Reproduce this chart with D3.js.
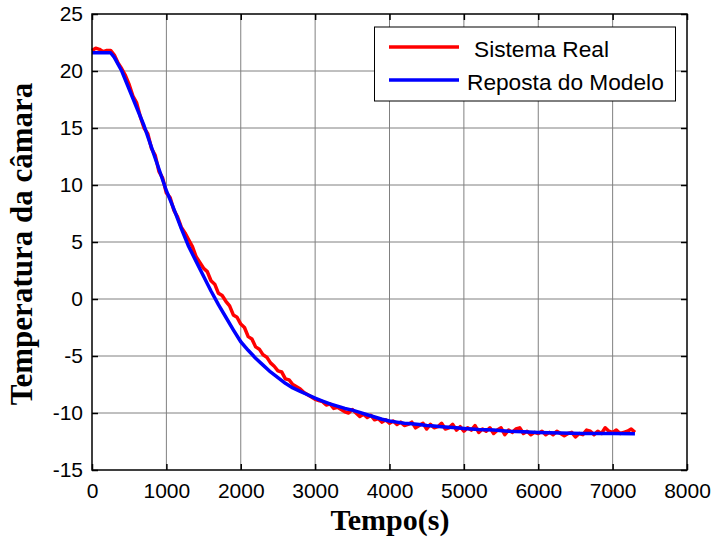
<!DOCTYPE html>
<html>
<head>
<meta charset="utf-8">
<script src="https://cdnjs.cloudflare.com/ajax/libs/d3/7.8.5/d3.min.js"></script>
<style>
  body { margin: 0; background: #fff; }
  svg { display: block; }
</style>
</head>
<body>
<div id="chart"></div>
<script>
// Set dimensions
var w = 713;
var h = 540;
var margin = {top: 14, right: 26, bottom: 70, left: 92};

// Model response (s, degrees)
var modelTime = [0, 100, 200, 250, 300, 400, 500, 600, 700, 800, 900, 1000,
    1100, 1200, 1300, 1400, 1500, 1600, 1700, 1800, 1900, 2000, 2100, 2200,
    2300, 2400, 2500, 2600, 2700, 2800, 2900, 3000, 3100, 3200, 3300, 3400,
    3500, 3600, 3700, 3800, 3900, 4000, 4100, 4200, 4300, 4400, 4500, 4600,
    4700, 4800, 4900, 5000, 5200, 5400, 5600, 5800, 6000, 6300, 6600, 7000, 7300];
var modelTemp = [21.6, 21.6, 21.6, 21.6, 21.2, 20.0, 18.4, 16.8, 15.2, 13.3, 11.4, 9.5,
    7.9, 6.2, 4.6, 3.3, 2.0, 0.7, -0.5, -1.6, -2.7, -3.75, -4.5, -5.2,
    -5.8, -6.4, -6.9, -7.4, -7.8, -8.1, -8.4, -8.7, -8.95, -9.2, -9.4, -9.6,
    -9.75, -9.95, -10.15, -10.35, -10.55, -10.7, -10.8, -10.9, -10.95, -11.0, -11.1, -11.15,
    -11.2, -11.25, -11.3, -11.35, -11.45, -11.5, -11.6, -11.65, -11.7, -11.75, -11.8, -11.8, -11.82];

// Measured system, sampled every 50 s from 0 to 7300
var realStep = 50;
var realTemp = [21.8, 22.0, 21.9, 21.7, 21.8, 21.8, 21.4, 20.7, 20.2, 19.6,
    18.8, 17.8, 17.2, 16.0, 15.0, 14.5, 13.2, 12.6, 11.2, 10.6,
    9.3, 8.9, 7.8, 7.2, 6.3, 5.8, 5.2, 4.6, 3.7, 3.2,
    2.7, 2.4, 1.6, 1.3, 0.5, 0.3, -0.2, -0.6, -1.4, -1.6,
    -2.2, -2.5, -3.3, -3.5, -4.2, -4.4, -4.9, -5.1, -5.6, -5.9,
    -6.3, -6.4, -7.0, -7.1, -7.5, -7.7, -7.9, -8.2, -8.4, -8.6,
    -8.8, -8.9, -9.0, -9.3, -9.2, -9.6, -9.5, -9.7, -9.9, -10.0,
    -9.7, -10.0, -10.3, -10.1, -10.4, -10.2, -10.6, -10.5, -10.8, -10.6,
    -10.9, -10.7, -11.0, -10.8, -11.1, -11.0, -10.8, -11.3, -11.1, -10.9,
    -11.4, -11.0, -11.3, -11.2, -10.9, -11.4, -11.3, -11.0, -11.5, -11.2,
    -11.6, -11.3, -11.5, -11.1, -11.7, -11.4, -11.6, -11.3, -11.8, -11.5,
    -11.3, -11.9, -11.5, -11.7, -11.4, -11.3, -11.8, -11.6, -11.9, -11.7,
    -11.8, -11.6, -11.9, -11.7, -11.9, -11.6, -11.8, -12.0, -11.8, -11.7,
    -12.1, -11.8, -11.9, -11.5, -11.6, -11.9, -11.6, -11.8, -11.3, -11.6,
    -11.7, -11.5, -11.8, -11.7, -11.6, -11.4, -11.7];

var xTicks = [0, 1000, 2000, 3000, 4000, 5000, 6000, 7000, 8000];
var yTicks = [-15, -10, -5, 0, 5, 10, 15, 20, 25];
var seriesNames = ["Sistema Real", "Reposta do Modelo"];

var realData = realTemp.map(function(v, i) { return [i * realStep, v]; });
var modelData = modelTime.map(function(t, i) { return [t, modelTemp[i]]; });

var xScale = d3.scaleLinear()
    .domain([0, 8000])
    .range([margin.left, w - margin.right]);

var yScale = d3.scaleLinear()
    .domain([-15, 25])
    .range([h - margin.bottom, margin.top]);

var svg = d3.select("#chart")
    .append("svg")
    .attr("width", w)
    .attr("height", h)
    .style("background", "#fff");

// Grid
svg.append("g")
    .selectAll("line")
    .data(xTicks.slice(1, -1))
    .enter()
    .append("line")
    .attr("x1", function(d) { return xScale(d); })
    .attr("x2", function(d) { return xScale(d); })
    .attr("y1", margin.top)
    .attr("y2", h - margin.bottom)
    .attr("stroke", "#808080")
    .attr("stroke-width", 1);

svg.append("g")
    .selectAll("line")
    .data(yTicks.slice(1, -1))
    .enter()
    .append("line")
    .attr("x1", margin.left)
    .attr("x2", w - margin.right)
    .attr("y1", function(d) { return yScale(d); })
    .attr("y2", function(d) { return yScale(d); })
    .attr("stroke", "#808080")
    .attr("stroke-width", 1);

// Axes with inward ticks, plain hyphen minus like the original
var plain = function(d) { return String(d); };

function styleAxis(g) {
    g.select(".domain").remove();
    g.selectAll(".tick line").attr("stroke", "#000").attr("stroke-width", 1.5);
    g.selectAll(".tick text")
        .attr("fill", "#000")
        .style("font-family", "'Liberation Sans', Arial, sans-serif")
        .style("font-size", "21px");
}

svg.append("g")
    .attr("transform", "translate(0," + (h - margin.bottom) + ")")
    .call(d3.axisBottom(xScale).tickValues(xTicks).tickFormat(plain).tickSize(-6).tickPadding(13))
    .call(styleAxis);

svg.append("g")
    .attr("transform", "translate(0," + margin.top + ")")
    .call(d3.axisTop(xScale).tickValues(xTicks).tickSize(-6).tickFormat(""))
    .call(styleAxis);

svg.append("g")
    .attr("transform", "translate(" + margin.left + ",0)")
    .call(d3.axisLeft(yScale).tickValues(yTicks).tickFormat(plain).tickSize(-6).tickPadding(9))
    .call(styleAxis);

svg.append("g")
    .attr("transform", "translate(" + (w - margin.right) + ",0)")
    .call(d3.axisRight(yScale).tickValues(yTicks).tickSize(-6).tickFormat(""))
    .call(styleAxis);

// Lines
var line = d3.line()
    .x(function(d) { return xScale(d[0]); })
    .y(function(d) { return yScale(d[1]); });

svg.append("path")
    .datum(realData)
    .attr("fill", "none")
    .attr("stroke", "#ff0000")
    .attr("stroke-width", 3.5)
    .attr("stroke-linejoin", "round")
    .attr("d", line);

svg.append("path")
    .datum(modelData)
    .attr("fill", "none")
    .attr("stroke", "#0000ff")
    .attr("stroke-width", 3.5)
    .attr("stroke-linejoin", "round")
    .attr("d", line);

// Box
svg.append("rect")
    .attr("x", margin.left)
    .attr("y", margin.top)
    .attr("width", w - margin.left - margin.right)
    .attr("height", h - margin.top - margin.bottom)
    .attr("fill", "none")
    .attr("stroke", "#000")
    .attr("stroke-width", 1.5);

// Legend
var legend = svg.append("g");
legend.append("rect")
    .attr("x", 374.5)
    .attr("y", 27)
    .attr("width", 301)
    .attr("height", 74)
    .attr("fill", "#fff")
    .attr("stroke", "#000")
    .attr("stroke-width", 1);

var legendColor = d3.scaleOrdinal().domain(seriesNames).range(["#ff0000", "#0000ff"]);
var legendItems = legend.selectAll(".legend-item")
    .data(seriesNames)
    .enter()
    .append("g")
    .attr("class", "legend-item")
    .attr("transform", function(d, i) { return "translate(0," + (47 + i * 33) + ")"; });

legendItems.append("line")
    .attr("x1", 389)
    .attr("x2", 459)
    .attr("stroke", legendColor)
    .attr("stroke-width", 3.5);

legendItems.append("text")
    .attr("x", function(d, i) { return i === 0 ? 474 : 467; })
    .attr("y", 10)
    .text(function(d) { return d; })
    .style("font-family", "'Liberation Sans', Arial, sans-serif")
    .style("font-size", "22.7px");

// Axis labels
svg.append("text")
    .attr("x", 390)
    .attr("y", 530)
    .attr("text-anchor", "middle")
    .text("Tempo(s)")
    .style("font-family", "'Liberation Serif', 'Times New Roman', serif")
    .style("font-weight", "bold")
    .style("font-size", "30px");

svg.append("text")
    .attr("transform", "translate(32,244) rotate(-90)")
    .attr("text-anchor", "middle")
    .text("Temperatura da câmara")
    .style("font-family", "'Liberation Serif', 'Times New Roman', serif")
    .style("font-weight", "bold")
    .style("font-size", "31px");
</script>
</body>
</html>
